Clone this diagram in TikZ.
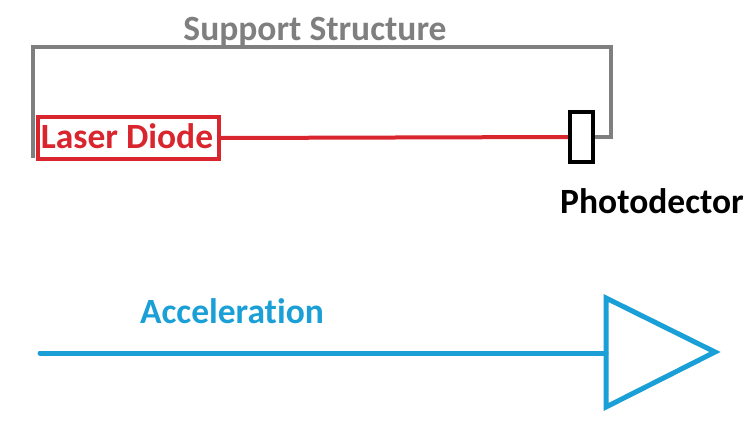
\documentclass[tikz,border=0pt]{standalone}
\usepackage{fontspec}
\setmainfont{Carlito}[RawFeature=-liga]
\definecolor{structgray}{HTML}{7F7F7F}
\definecolor{laserred}{HTML}{D9252E}
\definecolor{accelblue}{HTML}{1A9FD6}
\tikzset{
    label/.style={font=\bfseries\fontsize{35.5}{40}\selectfont, inner sep=0pt, anchor=base},
    part/.style={draw, line width=4, inner sep=0pt}
}

\begin{document}
\begin{tikzpicture}[x=1pt,y=-1pt]
            \useasboundingbox (0,0) rectangle (755,442);

            %support structure
            \node[label, text=structgray] (supportlabel) at (315,40) {Support Structure};

            \coordinate (supportfoot) at (33,158);

            \coordinate (supportleft) at (33,47);

            \coordinate (supportright) at (611,47);

            \coordinate (supportend) at (611,137);

            %laser and detector
            \node[part, laserred, minimum width=181, minimum height=42] (laser) at (128.5,138) {};

            \node[label, text=laserred] (laserlabel) at (127,148) {Laser Diode};

            \node[part, black, minimum width=23, minimum height=50] (photo) at (581.5,137) {};

            \node[label] (photolabel) at (652,213) {Photodector};

            \draw[structgray, line width=4.5] (supportfoot) -- (supportleft) -- (supportright) -- (supportend) -- (photo.east);

            \draw[laserred, line width=4] (laser.east) -- (photo.west);

            %acceleration
            \node[label, text=accelblue] (accellabel) at (232,323) {Acceleration};

            \coordinate (accelstart) at (40,353);

            \coordinate (headtop) at (606,298);

            \coordinate (headbottom) at (606,407);

            \coordinate (headtip) at (715,352);

            \draw[accelblue, line width=5, line cap=round] (accelstart) -- (headtop |- accelstart);

            \draw[accelblue, line width=5, line join=miter] (headtop) -- (headtip) -- (headbottom) -- cycle;
        \end{tikzpicture}
\end{document}
